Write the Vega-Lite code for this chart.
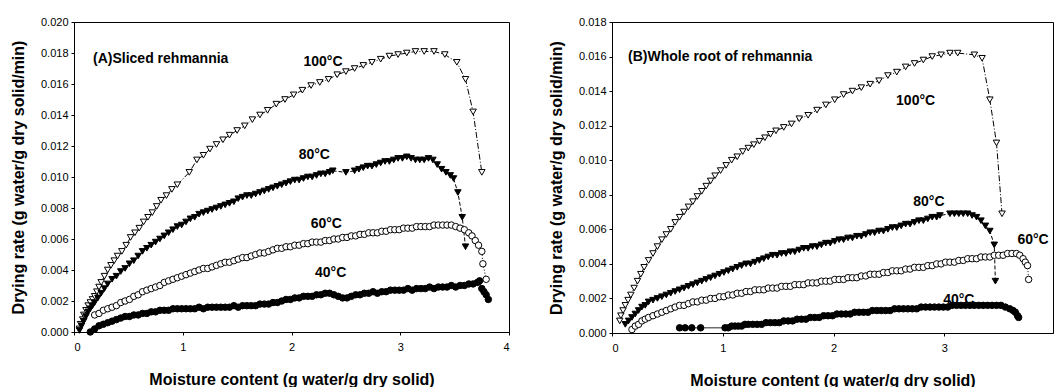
{
"$schema": "https://vega.github.io/schema/vega-lite/v6.json",
"padding": {"left": 9, "top": 15, "right": 0, "bottom": 0},
"spacing": 37,
"config": {
  "font": "Liberation Sans",
  "view": {"stroke": "black", "strokeWidth": 1},
  "axis": {"grid": false, "domainColor": "black", "tickColor": "black", "labelColor": "black", "titleColor": "black", "labelFont": "Liberation Sans", "labelFontSize": 11, "titleFont": "Liberation Sans", "titleFontSize": 16, "titleFontWeight": "bold", "tickSize": 3, "labelPadding": 3, "labelOverlap": false},
  "axisX": {"labelPadding": 6, "titlePadding": 19}
},
"resolve": {"scale": {"x": "independent", "y": "independent", "shape": "independent", "fill": "independent", "strokeDash": "independent"}},
"datasets": {
"A": [
{"t":100,"x":0.05,"y":0.0002},{"t":100,"x":0.06,"y":0.0005},{"t":100,"x":0.08,"y":0.0008},{"t":100,"x":0.09,"y":0.0011},{"t":100,"x":0.11,"y":0.0014},{"t":100,"x":0.13,"y":0.0017},{"t":100,"x":0.15,"y":0.0019},{"t":100,"x":0.17,"y":0.0021},{"t":100,"x":0.19,"y":0.0023},{"t":100,"x":0.21,"y":0.0026},{"t":100,"x":0.23,"y":0.0029},{"t":100,"x":0.25,"y":0.0032},{"t":100,"x":0.28,"y":0.0036},{"t":100,"x":0.31,"y":0.0040},{"t":100,"x":0.34,"y":0.0043},{"t":100,"x":0.37,"y":0.0046},{"t":100,"x":0.40,"y":0.0049},{"t":100,"x":0.44,"y":0.0052},{"t":100,"x":0.48,"y":0.0056},{"t":100,"x":0.52,"y":0.0061},{"t":100,"x":0.56,"y":0.0064},{"t":100,"x":0.60,"y":0.0067},{"t":100,"x":0.64,"y":0.0071},{"t":100,"x":0.68,"y":0.0074},{"t":100,"x":0.72,"y":0.0077},{"t":100,"x":0.76,"y":0.0081},{"t":100,"x":0.80,"y":0.0085},{"t":100,"x":0.85,"y":0.0088},{"t":100,"x":0.90,"y":0.0092},{"t":100,"x":0.95,"y":0.0095},{"t":100,"x":1.06,"y":0.0103},{"t":100,"x":1.13,"y":0.0111},{"t":100,"x":1.19,"y":0.0114},{"t":100,"x":1.25,"y":0.0118},{"t":100,"x":1.31,"y":0.0121},{"t":100,"x":1.37,"y":0.0124},{"t":100,"x":1.43,"y":0.0127},{"t":100,"x":1.50,"y":0.0130},{"t":100,"x":1.57,"y":0.0133},{"t":100,"x":1.64,"y":0.0137},{"t":100,"x":1.71,"y":0.0140},{"t":100,"x":1.78,"y":0.0143},{"t":100,"x":1.86,"y":0.0147},{"t":100,"x":1.94,"y":0.0150},{"t":100,"x":2.02,"y":0.0153},{"t":100,"x":2.10,"y":0.0156},{"t":100,"x":2.18,"y":0.0159},{"t":100,"x":2.26,"y":0.0161},{"t":100,"x":2.34,"y":0.0163},{"t":100,"x":2.42,"y":0.0166},{"t":100,"x":2.50,"y":0.0168},{"t":100,"x":2.58,"y":0.0170},{"t":100,"x":2.66,"y":0.0172},{"t":100,"x":2.74,"y":0.0174},{"t":100,"x":2.82,"y":0.0176},{"t":100,"x":2.90,"y":0.0178},{"t":100,"x":2.98,"y":0.0179},{"t":100,"x":3.06,"y":0.0180},{"t":100,"x":3.14,"y":0.0181},{"t":100,"x":3.22,"y":0.0181},{"t":100,"x":3.31,"y":0.0181},{"t":100,"x":3.41,"y":0.0179},{"t":100,"x":3.52,"y":0.0174},{"t":100,"x":3.60,"y":0.0163},{"t":100,"x":3.67,"y":0.0142},{"t":100,"x":3.75,"y":0.0103},
{"t":80,"x":0.05,"y":0.0001},{"t":80,"x":0.07,"y":0.0004},{"t":80,"x":0.09,"y":0.0007},{"t":80,"x":0.11,"y":0.0010},{"t":80,"x":0.13,"y":0.0013},{"t":80,"x":0.15,"y":0.0015},{"t":80,"x":0.17,"y":0.0017},{"t":80,"x":0.19,"y":0.0019},{"t":80,"x":0.22,"y":0.0022},{"t":80,"x":0.25,"y":0.0025},{"t":80,"x":0.28,"y":0.0028},{"t":80,"x":0.31,"y":0.0031},{"t":80,"x":0.35,"y":0.0034},{"t":80,"x":0.39,"y":0.0036},{"t":80,"x":0.43,"y":0.0039},{"t":80,"x":0.47,"y":0.0041},{"t":80,"x":0.51,"y":0.0044},{"t":80,"x":0.55,"y":0.0046},{"t":80,"x":0.59,"y":0.0049},{"t":80,"x":0.63,"y":0.0052},{"t":80,"x":0.67,"y":0.0054},{"t":80,"x":0.71,"y":0.0056},{"t":80,"x":0.75,"y":0.0058},{"t":80,"x":0.79,"y":0.0060},{"t":80,"x":0.83,"y":0.0062},{"t":80,"x":0.87,"y":0.0064},{"t":80,"x":0.91,"y":0.0066},{"t":80,"x":0.95,"y":0.0068},{"t":80,"x":0.99,"y":0.0069},{"t":80,"x":1.03,"y":0.0071},{"t":80,"x":1.07,"y":0.0073},{"t":80,"x":1.11,"y":0.0074},{"t":80,"x":1.15,"y":0.0076},{"t":80,"x":1.19,"y":0.0077},{"t":80,"x":1.23,"y":0.0078},{"t":80,"x":1.27,"y":0.0079},{"t":80,"x":1.31,"y":0.0080},{"t":80,"x":1.35,"y":0.0081},{"t":80,"x":1.39,"y":0.0082},{"t":80,"x":1.43,"y":0.0083},{"t":80,"x":1.47,"y":0.0084},{"t":80,"x":1.51,"y":0.0086},{"t":80,"x":1.55,"y":0.0087},{"t":80,"x":1.59,"y":0.0088},{"t":80,"x":1.63,"y":0.0088},{"t":80,"x":1.67,"y":0.0089},{"t":80,"x":1.71,"y":0.0090},{"t":80,"x":1.75,"y":0.0091},{"t":80,"x":1.79,"y":0.0092},{"t":80,"x":1.83,"y":0.0093},{"t":80,"x":1.87,"y":0.0094},{"t":80,"x":1.91,"y":0.0095},{"t":80,"x":1.95,"y":0.0096},{"t":80,"x":1.99,"y":0.0097},{"t":80,"x":2.03,"y":0.0098},{"t":80,"x":2.07,"y":0.0098},{"t":80,"x":2.11,"y":0.0099},{"t":80,"x":2.15,"y":0.0100},{"t":80,"x":2.19,"y":0.0100},{"t":80,"x":2.23,"y":0.0101},{"t":80,"x":2.27,"y":0.0102},{"t":80,"x":2.31,"y":0.0102},{"t":80,"x":2.35,"y":0.0103},{"t":80,"x":2.38,"y":0.0104},{"t":80,"x":2.50,"y":0.0103},{"t":80,"x":2.58,"y":0.0104},{"t":80,"x":2.62,"y":0.0105},{"t":80,"x":2.66,"y":0.0106},{"t":80,"x":2.70,"y":0.0107},{"t":80,"x":2.74,"y":0.0107},{"t":80,"x":2.78,"y":0.0108},{"t":80,"x":2.82,"y":0.0109},{"t":80,"x":2.86,"y":0.0110},{"t":80,"x":2.90,"y":0.0110},{"t":80,"x":2.94,"y":0.0111},{"t":80,"x":2.98,"y":0.0112},{"t":80,"x":3.02,"y":0.0112},{"t":80,"x":3.06,"y":0.0113},{"t":80,"x":3.10,"y":0.0112},{"t":80,"x":3.14,"y":0.0111},{"t":80,"x":3.18,"y":0.0111},{"t":80,"x":3.22,"y":0.0111},{"t":80,"x":3.26,"y":0.0112},{"t":80,"x":3.30,"y":0.0111},{"t":80,"x":3.34,"y":0.0108},{"t":80,"x":3.38,"y":0.0105},{"t":80,"x":3.42,"y":0.0103},{"t":80,"x":3.46,"y":0.0101},{"t":80,"x":3.49,"y":0.0099},{"t":80,"x":3.53,"y":0.0090},{"t":80,"x":3.57,"y":0.0074},{"t":80,"x":3.60,"y":0.0055},
{"t":60,"x":0.19,"y":0.0011},{"t":60,"x":0.23,"y":0.0012},{"t":60,"x":0.27,"y":0.0014},{"t":60,"x":0.31,"y":0.0015},{"t":60,"x":0.35,"y":0.0016},{"t":60,"x":0.39,"y":0.0017},{"t":60,"x":0.43,"y":0.0019},{"t":60,"x":0.47,"y":0.0020},{"t":60,"x":0.51,"y":0.0021},{"t":60,"x":0.55,"y":0.0023},{"t":60,"x":0.59,"y":0.0024},{"t":60,"x":0.63,"y":0.0026},{"t":60,"x":0.67,"y":0.0027},{"t":60,"x":0.71,"y":0.0028},{"t":60,"x":0.75,"y":0.0029},{"t":60,"x":0.79,"y":0.0030},{"t":60,"x":0.83,"y":0.0032},{"t":60,"x":0.87,"y":0.0033},{"t":60,"x":0.91,"y":0.0034},{"t":60,"x":0.95,"y":0.0035},{"t":60,"x":0.99,"y":0.0036},{"t":60,"x":1.03,"y":0.0037},{"t":60,"x":1.07,"y":0.0038},{"t":60,"x":1.11,"y":0.0039},{"t":60,"x":1.15,"y":0.0040},{"t":60,"x":1.19,"y":0.0041},{"t":60,"x":1.23,"y":0.0041},{"t":60,"x":1.27,"y":0.0042},{"t":60,"x":1.31,"y":0.0043},{"t":60,"x":1.35,"y":0.0044},{"t":60,"x":1.39,"y":0.0045},{"t":60,"x":1.43,"y":0.0045},{"t":60,"x":1.47,"y":0.0046},{"t":60,"x":1.51,"y":0.0047},{"t":60,"x":1.55,"y":0.0048},{"t":60,"x":1.59,"y":0.0048},{"t":60,"x":1.63,"y":0.0049},{"t":60,"x":1.67,"y":0.0050},{"t":60,"x":1.71,"y":0.0051},{"t":60,"x":1.75,"y":0.0051},{"t":60,"x":1.79,"y":0.0052},{"t":60,"x":1.83,"y":0.0053},{"t":60,"x":1.87,"y":0.0054},{"t":60,"x":1.91,"y":0.0054},{"t":60,"x":1.95,"y":0.0055},{"t":60,"x":1.99,"y":0.0055},{"t":60,"x":2.03,"y":0.0056},{"t":60,"x":2.07,"y":0.0056},{"t":60,"x":2.11,"y":0.0057},{"t":60,"x":2.15,"y":0.0057},{"t":60,"x":2.19,"y":0.0058},{"t":60,"x":2.23,"y":0.0058},{"t":60,"x":2.27,"y":0.0058},{"t":60,"x":2.31,"y":0.0059},{"t":60,"x":2.35,"y":0.0059},{"t":60,"x":2.39,"y":0.0060},{"t":60,"x":2.43,"y":0.0060},{"t":60,"x":2.47,"y":0.0061},{"t":60,"x":2.51,"y":0.0061},{"t":60,"x":2.55,"y":0.0062},{"t":60,"x":2.59,"y":0.0062},{"t":60,"x":2.63,"y":0.0063},{"t":60,"x":2.67,"y":0.0063},{"t":60,"x":2.71,"y":0.0064},{"t":60,"x":2.75,"y":0.0064},{"t":60,"x":2.79,"y":0.0064},{"t":60,"x":2.83,"y":0.0065},{"t":60,"x":2.87,"y":0.0065},{"t":60,"x":2.91,"y":0.0066},{"t":60,"x":2.95,"y":0.0066},{"t":60,"x":2.99,"y":0.0066},{"t":60,"x":3.03,"y":0.0067},{"t":60,"x":3.07,"y":0.0067},{"t":60,"x":3.11,"y":0.0067},{"t":60,"x":3.15,"y":0.0068},{"t":60,"x":3.19,"y":0.0068},{"t":60,"x":3.23,"y":0.0068},{"t":60,"x":3.27,"y":0.0068},{"t":60,"x":3.31,"y":0.0069},{"t":60,"x":3.35,"y":0.0069},{"t":60,"x":3.39,"y":0.0069},{"t":60,"x":3.43,"y":0.0069},{"t":60,"x":3.47,"y":0.0069},{"t":60,"x":3.51,"y":0.0068},{"t":60,"x":3.55,"y":0.0067},{"t":60,"x":3.59,"y":0.0066},{"t":60,"x":3.63,"y":0.0064},{"t":60,"x":3.66,"y":0.0062},{"t":60,"x":3.69,"y":0.0059},{"t":60,"x":3.72,"y":0.0056},{"t":60,"x":3.75,"y":0.0052},{"t":60,"x":3.76,"y":0.0044},{"t":60,"x":3.79,"y":0.0034},
{"t":40,"x":0.15,"y":0.0000},{"t":40,"x":0.19,"y":0.0002},{"t":40,"x":0.23,"y":0.0004},{"t":40,"x":0.27,"y":0.0005},{"t":40,"x":0.31,"y":0.0006},{"t":40,"x":0.35,"y":0.0007},{"t":40,"x":0.39,"y":0.0008},{"t":40,"x":0.43,"y":0.0009},{"t":40,"x":0.47,"y":0.0010},{"t":40,"x":0.51,"y":0.0010},{"t":40,"x":0.55,"y":0.0011},{"t":40,"x":0.59,"y":0.0011},{"t":40,"x":0.63,"y":0.0012},{"t":40,"x":0.67,"y":0.0012},{"t":40,"x":0.71,"y":0.0013},{"t":40,"x":0.75,"y":0.0013},{"t":40,"x":0.79,"y":0.0014},{"t":40,"x":0.83,"y":0.0014},{"t":40,"x":0.87,"y":0.0014},{"t":40,"x":0.91,"y":0.0015},{"t":40,"x":0.95,"y":0.0015},{"t":40,"x":0.99,"y":0.0015},{"t":40,"x":1.03,"y":0.0015},{"t":40,"x":1.07,"y":0.0015},{"t":40,"x":1.11,"y":0.0015},{"t":40,"x":1.15,"y":0.0016},{"t":40,"x":1.19,"y":0.0015},{"t":40,"x":1.23,"y":0.0016},{"t":40,"x":1.27,"y":0.0016},{"t":40,"x":1.31,"y":0.0016},{"t":40,"x":1.35,"y":0.0016},{"t":40,"x":1.39,"y":0.0016},{"t":40,"x":1.43,"y":0.0016},{"t":40,"x":1.47,"y":0.0017},{"t":40,"x":1.51,"y":0.0016},{"t":40,"x":1.55,"y":0.0017},{"t":40,"x":1.59,"y":0.0017},{"t":40,"x":1.63,"y":0.0017},{"t":40,"x":1.67,"y":0.0017},{"t":40,"x":1.71,"y":0.0018},{"t":40,"x":1.75,"y":0.0018},{"t":40,"x":1.79,"y":0.0018},{"t":40,"x":1.83,"y":0.0019},{"t":40,"x":1.87,"y":0.0019},{"t":40,"x":1.91,"y":0.0020},{"t":40,"x":1.95,"y":0.0021},{"t":40,"x":1.99,"y":0.0021},{"t":40,"x":2.03,"y":0.0022},{"t":40,"x":2.07,"y":0.0022},{"t":40,"x":2.11,"y":0.0023},{"t":40,"x":2.15,"y":0.0023},{"t":40,"x":2.19,"y":0.0023},{"t":40,"x":2.23,"y":0.0024},{"t":40,"x":2.27,"y":0.0024},{"t":40,"x":2.31,"y":0.0025},{"t":40,"x":2.35,"y":0.0025},{"t":40,"x":2.39,"y":0.0024},{"t":40,"x":2.43,"y":0.0023},{"t":40,"x":2.47,"y":0.0022},{"t":40,"x":2.51,"y":0.0022},{"t":40,"x":2.55,"y":0.0023},{"t":40,"x":2.59,"y":0.0024},{"t":40,"x":2.63,"y":0.0024},{"t":40,"x":2.67,"y":0.0025},{"t":40,"x":2.71,"y":0.0025},{"t":40,"x":2.75,"y":0.0026},{"t":40,"x":2.79,"y":0.0025},{"t":40,"x":2.83,"y":0.0026},{"t":40,"x":2.87,"y":0.0026},{"t":40,"x":2.91,"y":0.0027},{"t":40,"x":2.95,"y":0.0027},{"t":40,"x":2.99,"y":0.0027},{"t":40,"x":3.03,"y":0.0027},{"t":40,"x":3.07,"y":0.0028},{"t":40,"x":3.11,"y":0.0027},{"t":40,"x":3.15,"y":0.0028},{"t":40,"x":3.19,"y":0.0028},{"t":40,"x":3.23,"y":0.0028},{"t":40,"x":3.27,"y":0.0029},{"t":40,"x":3.31,"y":0.0028},{"t":40,"x":3.35,"y":0.0029},{"t":40,"x":3.39,"y":0.0029},{"t":40,"x":3.43,"y":0.0029},{"t":40,"x":3.47,"y":0.0030},{"t":40,"x":3.51,"y":0.0029},{"t":40,"x":3.55,"y":0.0030},{"t":40,"x":3.59,"y":0.0030},{"t":40,"x":3.63,"y":0.0031},{"t":40,"x":3.67,"y":0.0031},{"t":40,"x":3.71,"y":0.0032},{"t":40,"x":3.73,"y":0.0033},{"t":40,"x":3.75,"y":0.0028},{"t":40,"x":3.77,"y":0.0026},{"t":40,"x":3.79,"y":0.0024},{"t":40,"x":3.81,"y":0.0021}
],
"B": [
{"t":100,"x":0.07,"y":0.0007},{"t":100,"x":0.08,"y":0.0010},{"t":100,"x":0.10,"y":0.0013},{"t":100,"x":0.12,"y":0.0016},{"t":100,"x":0.145,"y":0.0019},{"t":100,"x":0.17,"y":0.0022},{"t":100,"x":0.20,"y":0.0026},{"t":100,"x":0.23,"y":0.0030},{"t":100,"x":0.26,"y":0.0034},{"t":100,"x":0.29,"y":0.0038},{"t":100,"x":0.33,"y":0.0042},{"t":100,"x":0.37,"y":0.0046},{"t":100,"x":0.41,"y":0.0050},{"t":100,"x":0.45,"y":0.0054},{"t":100,"x":0.49,"y":0.0057},{"t":100,"x":0.53,"y":0.0060},{"t":100,"x":0.57,"y":0.0064},{"t":100,"x":0.61,"y":0.0067},{"t":100,"x":0.65,"y":0.0070},{"t":100,"x":0.69,"y":0.0073},{"t":100,"x":0.73,"y":0.0076},{"t":100,"x":0.77,"y":0.0079},{"t":100,"x":0.81,"y":0.0082},{"t":100,"x":0.85,"y":0.0085},{"t":100,"x":0.89,"y":0.0088},{"t":100,"x":0.93,"y":0.0091},{"t":100,"x":0.98,"y":0.0094},{"t":100,"x":1.03,"y":0.0097},{"t":100,"x":1.08,"y":0.0100},{"t":100,"x":1.13,"y":0.0102},{"t":100,"x":1.18,"y":0.0105},{"t":100,"x":1.23,"y":0.0107},{"t":100,"x":1.28,"y":0.0109},{"t":100,"x":1.33,"y":0.0111},{"t":100,"x":1.38,"y":0.0113},{"t":100,"x":1.43,"y":0.0115},{"t":100,"x":1.48,"y":0.0117},{"t":100,"x":1.55,"y":0.0119},{"t":100,"x":1.62,"y":0.0121},{"t":100,"x":1.69,"y":0.0124},{"t":100,"x":1.77,"y":0.0126},{"t":100,"x":1.85,"y":0.0129},{"t":100,"x":1.93,"y":0.0132},{"t":100,"x":2.01,"y":0.0135},{"t":100,"x":2.09,"y":0.0138},{"t":100,"x":2.17,"y":0.0140},{"t":100,"x":2.25,"y":0.0142},{"t":100,"x":2.33,"y":0.0144},{"t":100,"x":2.41,"y":0.0146},{"t":100,"x":2.49,"y":0.0149},{"t":100,"x":2.57,"y":0.0151},{"t":100,"x":2.65,"y":0.0154},{"t":100,"x":2.73,"y":0.0156},{"t":100,"x":2.81,"y":0.0158},{"t":100,"x":2.89,"y":0.0160},{"t":100,"x":2.97,"y":0.0161},{"t":100,"x":3.05,"y":0.0162},{"t":100,"x":3.12,"y":0.0162},{"t":100,"x":3.27,"y":0.0161},{"t":100,"x":3.34,"y":0.0159},{"t":100,"x":3.41,"y":0.0135},{"t":100,"x":3.47,"y":0.0110},{"t":100,"x":3.52,"y":0.0069},
{"t":80,"x":0.12,"y":0.0005},{"t":80,"x":0.15,"y":0.0007},{"t":80,"x":0.18,"y":0.0009},{"t":80,"x":0.21,"y":0.0011},{"t":80,"x":0.24,"y":0.0013},{"t":80,"x":0.27,"y":0.0015},{"t":80,"x":0.30,"y":0.0016},{"t":80,"x":0.33,"y":0.0018},{"t":80,"x":0.37,"y":0.0019},{"t":80,"x":0.41,"y":0.0020},{"t":80,"x":0.45,"y":0.0021},{"t":80,"x":0.49,"y":0.0022},{"t":80,"x":0.53,"y":0.0023},{"t":80,"x":0.57,"y":0.0024},{"t":80,"x":0.61,"y":0.0025},{"t":80,"x":0.65,"y":0.0026},{"t":80,"x":0.69,"y":0.0027},{"t":80,"x":0.73,"y":0.0028},{"t":80,"x":0.77,"y":0.0029},{"t":80,"x":0.81,"y":0.0030},{"t":80,"x":0.85,"y":0.0031},{"t":80,"x":0.89,"y":0.0032},{"t":80,"x":0.93,"y":0.0033},{"t":80,"x":0.97,"y":0.0034},{"t":80,"x":1.01,"y":0.0035},{"t":80,"x":1.05,"y":0.0036},{"t":80,"x":1.09,"y":0.0037},{"t":80,"x":1.13,"y":0.0038},{"t":80,"x":1.17,"y":0.0039},{"t":80,"x":1.21,"y":0.0040},{"t":80,"x":1.25,"y":0.0040},{"t":80,"x":1.29,"y":0.0041},{"t":80,"x":1.33,"y":0.0042},{"t":80,"x":1.37,"y":0.0043},{"t":80,"x":1.41,"y":0.0044},{"t":80,"x":1.45,"y":0.0045},{"t":80,"x":1.49,"y":0.0045},{"t":80,"x":1.53,"y":0.0046},{"t":80,"x":1.57,"y":0.0046},{"t":80,"x":1.61,"y":0.0047},{"t":80,"x":1.65,"y":0.0047},{"t":80,"x":1.69,"y":0.0048},{"t":80,"x":1.73,"y":0.0049},{"t":80,"x":1.77,"y":0.0049},{"t":80,"x":1.81,"y":0.0050},{"t":80,"x":1.85,"y":0.0050},{"t":80,"x":1.89,"y":0.0051},{"t":80,"x":1.93,"y":0.0052},{"t":80,"x":1.97,"y":0.0052},{"t":80,"x":2.01,"y":0.0053},{"t":80,"x":2.05,"y":0.0054},{"t":80,"x":2.09,"y":0.0054},{"t":80,"x":2.13,"y":0.0055},{"t":80,"x":2.17,"y":0.0055},{"t":80,"x":2.21,"y":0.0056},{"t":80,"x":2.25,"y":0.0056},{"t":80,"x":2.29,"y":0.0057},{"t":80,"x":2.33,"y":0.0058},{"t":80,"x":2.37,"y":0.0058},{"t":80,"x":2.41,"y":0.0059},{"t":80,"x":2.45,"y":0.0059},{"t":80,"x":2.49,"y":0.0060},{"t":80,"x":2.53,"y":0.0061},{"t":80,"x":2.57,"y":0.0061},{"t":80,"x":2.61,"y":0.0062},{"t":80,"x":2.65,"y":0.0063},{"t":80,"x":2.69,"y":0.0063},{"t":80,"x":2.73,"y":0.0064},{"t":80,"x":2.77,"y":0.0065},{"t":80,"x":2.81,"y":0.0065},{"t":80,"x":2.85,"y":0.0066},{"t":80,"x":2.89,"y":0.0067},{"t":80,"x":2.93,"y":0.0067},{"t":80,"x":2.96,"y":0.0068},{"t":80,"x":3.05,"y":0.0069},{"t":80,"x":3.09,"y":0.0069},{"t":80,"x":3.13,"y":0.0069},{"t":80,"x":3.17,"y":0.0069},{"t":80,"x":3.21,"y":0.0069},{"t":80,"x":3.25,"y":0.0068},{"t":80,"x":3.29,"y":0.0067},{"t":80,"x":3.33,"y":0.0065},{"t":80,"x":3.37,"y":0.0062},{"t":80,"x":3.41,"y":0.0059},{"t":80,"x":3.45,"y":0.0051},{"t":80,"x":3.46,"y":0.0030},
{"t":60,"x":0.18,"y":0.0002},{"t":60,"x":0.21,"y":0.0004},{"t":60,"x":0.24,"y":0.0005},{"t":60,"x":0.27,"y":0.0007},{"t":60,"x":0.30,"y":0.0008},{"t":60,"x":0.33,"y":0.0009},{"t":60,"x":0.37,"y":0.0010},{"t":60,"x":0.41,"y":0.0011},{"t":60,"x":0.45,"y":0.0012},{"t":60,"x":0.49,"y":0.0013},{"t":60,"x":0.53,"y":0.0014},{"t":60,"x":0.57,"y":0.0015},{"t":60,"x":0.61,"y":0.0016},{"t":60,"x":0.65,"y":0.0016},{"t":60,"x":0.69,"y":0.0017},{"t":60,"x":0.73,"y":0.0018},{"t":60,"x":0.77,"y":0.0018},{"t":60,"x":0.81,"y":0.0019},{"t":60,"x":0.85,"y":0.0019},{"t":60,"x":0.89,"y":0.0020},{"t":60,"x":0.93,"y":0.0020},{"t":60,"x":0.97,"y":0.0021},{"t":60,"x":1.01,"y":0.0021},{"t":60,"x":1.05,"y":0.0022},{"t":60,"x":1.09,"y":0.0022},{"t":60,"x":1.13,"y":0.0023},{"t":60,"x":1.17,"y":0.0023},{"t":60,"x":1.21,"y":0.0024},{"t":60,"x":1.25,"y":0.0024},{"t":60,"x":1.29,"y":0.0025},{"t":60,"x":1.33,"y":0.0025},{"t":60,"x":1.37,"y":0.0025},{"t":60,"x":1.41,"y":0.0026},{"t":60,"x":1.45,"y":0.0026},{"t":60,"x":1.49,"y":0.0026},{"t":60,"x":1.53,"y":0.0027},{"t":60,"x":1.57,"y":0.0027},{"t":60,"x":1.61,"y":0.0027},{"t":60,"x":1.65,"y":0.0028},{"t":60,"x":1.69,"y":0.0028},{"t":60,"x":1.73,"y":0.0028},{"t":60,"x":1.77,"y":0.0029},{"t":60,"x":1.81,"y":0.0029},{"t":60,"x":1.85,"y":0.0029},{"t":60,"x":1.89,"y":0.0030},{"t":60,"x":1.93,"y":0.0030},{"t":60,"x":1.97,"y":0.0030},{"t":60,"x":2.01,"y":0.0031},{"t":60,"x":2.05,"y":0.0031},{"t":60,"x":2.09,"y":0.0031},{"t":60,"x":2.13,"y":0.0032},{"t":60,"x":2.17,"y":0.0032},{"t":60,"x":2.21,"y":0.0032},{"t":60,"x":2.25,"y":0.0033},{"t":60,"x":2.29,"y":0.0033},{"t":60,"x":2.33,"y":0.0034},{"t":60,"x":2.37,"y":0.0034},{"t":60,"x":2.41,"y":0.0034},{"t":60,"x":2.45,"y":0.0035},{"t":60,"x":2.49,"y":0.0035},{"t":60,"x":2.53,"y":0.0036},{"t":60,"x":2.57,"y":0.0036},{"t":60,"x":2.61,"y":0.0036},{"t":60,"x":2.65,"y":0.0037},{"t":60,"x":2.69,"y":0.0037},{"t":60,"x":2.73,"y":0.0038},{"t":60,"x":2.77,"y":0.0038},{"t":60,"x":2.81,"y":0.0038},{"t":60,"x":2.85,"y":0.0039},{"t":60,"x":2.89,"y":0.0039},{"t":60,"x":2.93,"y":0.0040},{"t":60,"x":2.97,"y":0.0040},{"t":60,"x":3.01,"y":0.0041},{"t":60,"x":3.05,"y":0.0041},{"t":60,"x":3.09,"y":0.0041},{"t":60,"x":3.13,"y":0.0042},{"t":60,"x":3.17,"y":0.0042},{"t":60,"x":3.21,"y":0.0043},{"t":60,"x":3.25,"y":0.0043},{"t":60,"x":3.29,"y":0.0043},{"t":60,"x":3.33,"y":0.0044},{"t":60,"x":3.37,"y":0.0044},{"t":60,"x":3.41,"y":0.0044},{"t":60,"x":3.45,"y":0.0045},{"t":60,"x":3.49,"y":0.0045},{"t":60,"x":3.53,"y":0.0045},{"t":60,"x":3.57,"y":0.0046},{"t":60,"x":3.61,"y":0.0046},{"t":60,"x":3.65,"y":0.0046},{"t":60,"x":3.68,"y":0.0045},{"t":60,"x":3.71,"y":0.0043},{"t":60,"x":3.73,"y":0.0041},{"t":60,"x":3.75,"y":0.0039},{"t":60,"x":3.76,"y":0.0031},
{"t":40,"x":0.61,"y":0.0003},{"t":40,"x":0.66,"y":0.0003},{"t":40,"x":0.72,"y":0.0003},{"t":40,"x":0.80,"y":0.0003},{"t":40,"x":1.02,"y":0.0003},{"t":40,"x":1.05,"y":0.0003},{"t":40,"x":1.08,"y":0.0004},{"t":40,"x":1.11,"y":0.0004},{"t":40,"x":1.14,"y":0.0004},{"t":40,"x":1.17,"y":0.0004},{"t":40,"x":1.20,"y":0.0005},{"t":40,"x":1.23,"y":0.0005},{"t":40,"x":1.27,"y":0.0005},{"t":40,"x":1.31,"y":0.0005},{"t":40,"x":1.35,"y":0.0005},{"t":40,"x":1.39,"y":0.0006},{"t":40,"x":1.43,"y":0.0006},{"t":40,"x":1.47,"y":0.0006},{"t":40,"x":1.51,"y":0.0006},{"t":40,"x":1.55,"y":0.0007},{"t":40,"x":1.59,"y":0.0007},{"t":40,"x":1.63,"y":0.0007},{"t":40,"x":1.67,"y":0.0008},{"t":40,"x":1.71,"y":0.0008},{"t":40,"x":1.75,"y":0.0008},{"t":40,"x":1.79,"y":0.0009},{"t":40,"x":1.83,"y":0.0009},{"t":40,"x":1.87,"y":0.0009},{"t":40,"x":1.91,"y":0.0010},{"t":40,"x":1.95,"y":0.0010},{"t":40,"x":1.99,"y":0.0010},{"t":40,"x":2.03,"y":0.0011},{"t":40,"x":2.07,"y":0.0011},{"t":40,"x":2.11,"y":0.0011},{"t":40,"x":2.15,"y":0.0011},{"t":40,"x":2.19,"y":0.0012},{"t":40,"x":2.23,"y":0.0012},{"t":40,"x":2.27,"y":0.0012},{"t":40,"x":2.31,"y":0.0012},{"t":40,"x":2.35,"y":0.0013},{"t":40,"x":2.39,"y":0.0013},{"t":40,"x":2.43,"y":0.0013},{"t":40,"x":2.47,"y":0.0013},{"t":40,"x":2.51,"y":0.0013},{"t":40,"x":2.55,"y":0.0014},{"t":40,"x":2.59,"y":0.0014},{"t":40,"x":2.63,"y":0.0014},{"t":40,"x":2.67,"y":0.0014},{"t":40,"x":2.71,"y":0.0014},{"t":40,"x":2.75,"y":0.0014},{"t":40,"x":2.79,"y":0.0015},{"t":40,"x":2.83,"y":0.0015},{"t":40,"x":2.87,"y":0.0015},{"t":40,"x":2.91,"y":0.0015},{"t":40,"x":2.95,"y":0.0015},{"t":40,"x":2.99,"y":0.0015},{"t":40,"x":3.03,"y":0.0015},{"t":40,"x":3.07,"y":0.0016},{"t":40,"x":3.11,"y":0.0016},{"t":40,"x":3.15,"y":0.0016},{"t":40,"x":3.19,"y":0.0016},{"t":40,"x":3.23,"y":0.0016},{"t":40,"x":3.27,"y":0.0016},{"t":40,"x":3.31,"y":0.0016},{"t":40,"x":3.35,"y":0.0016},{"t":40,"x":3.39,"y":0.0016},{"t":40,"x":3.43,"y":0.0016},{"t":40,"x":3.47,"y":0.0016},{"t":40,"x":3.51,"y":0.0016},{"t":40,"x":3.55,"y":0.0015},{"t":40,"x":3.59,"y":0.0014},{"t":40,"x":3.62,"y":0.0013},{"t":40,"x":3.64,"y":0.0012},{"t":40,"x":3.66,"y":0.0010},{"t":40,"x":3.67,"y":0.0009}
],
"LA": [
{"label":"(A)Sliced rehmannia","x":0.175,"y":0.0176,"a":"left"},
{"label":"100°C","x":2.29,"y":0.0174,"a":"center"},
{"label":"80°C","x":2.21,"y":0.0114,"a":"center"},
{"label":"60°C","x":2.32,"y":0.0070,"a":"center"},
{"label":"40°C","x":2.36,"y":0.0038,"a":"center"}
],
"LB": [
{"label":"(B)Whole root of rehmannia","x":0.145,"y":0.0160,"a":"left"},
{"label":"100°C","x":2.74,"y":0.0134,"a":"center"},
{"label":"80°C","x":2.86,"y":0.0076,"a":"center"},
{"label":"60°C","x":3.80,"y":0.0054,"a":"center"},
{"label":"40°C","x":3.13,"y":0.0019,"a":"center"}
]
},
"hconcat": [
{
 "width": 435, "height": 310,
 "encoding": {
  "x": {"field": "x", "type": "quantitative", "scale": {"domain": [0, 4], "nice": false}, "axis": {"values": [0,1,2,3,4], "format": "d", "labelOverlap": false, "title": "Moisture content (g water/g dry solid)"}},
  "y": {"field": "y", "type": "quantitative", "scale": {"domain": [0, 0.02], "nice": false}, "axis": {"values": [0,0.002,0.004,0.006,0.008,0.01,0.012,0.014,0.016,0.018,0.02], "tickCount": 11, "format": ".3f", "labelOverlap": false, "title": "Drying rate (g water/g dry solid/min)", "titlePadding": 14}}
 },
 "layer": [
  {"data": {"name": "A"},
   "mark": {"type": "line", "color": "black", "strokeWidth": 1},
   "encoding": {
    "detail": {"field": "t", "type": "nominal"},
    "strokeDash": {"field": "t", "type": "nominal", "scale": {"domain": [100,80,60,40], "range": [[6,2,1,2],[4,2],[1,2],[1,0]]}, "legend": null}
   }},
  {"data": {"name": "A"},
   "mark": {"type": "point", "filled": true, "stroke": "black", "strokeWidth": 1, "opacity": 1, "size": 42},
   "encoding": {
    "shape": {"field": "t", "type": "nominal", "scale": {"domain": [100,80,60,40], "range": ["triangle-down","triangle-down","circle","circle"]}, "legend": null},
    "fill": {"field": "t", "type": "nominal", "scale": {"domain": [100,80,60,40], "range": ["white","black","white","black"]}, "legend": null}
   }},
  {"data": {"name": "LA"},
   "transform": [{"filter": "datum.a == 'left'"}],
   "mark": {"type": "text", "fontWeight": "bold", "fontSize": 14, "font": "Liberation Sans", "color": "black", "align": "left"},
   "encoding": {"text": {"field": "label"}}},
  {"data": {"name": "LA"},
   "transform": [{"filter": "datum.a == 'center'"}],
   "mark": {"type": "text", "fontWeight": "bold", "fontSize": 14, "font": "Liberation Sans", "color": "black", "align": "center"},
   "encoding": {"text": {"field": "label"}}}
 ]
},
{
 "width": 441, "height": 311,
 "encoding": {
  "x": {"field": "x", "type": "quantitative", "scale": {"domain": [0, 3.98], "nice": false}, "axis": {"values": [0,1,2,3], "format": "d", "labelOverlap": false, "title": "Moisture content (g water/g dry solid)"}},
  "y": {"field": "y", "type": "quantitative", "scale": {"domain": [0, 0.018], "nice": false}, "axis": {"values": [0,0.002,0.004,0.006,0.008,0.01,0.012,0.014,0.016,0.018], "tickCount": 10, "format": ".3f", "labelOverlap": false, "title": "Drying rate (g water/g dry solid/min)", "titlePadding": 14}}
 },
 "layer": [
  {"data": {"name": "B"},
   "mark": {"type": "line", "color": "black", "strokeWidth": 1},
   "encoding": {
    "detail": {"field": "t", "type": "nominal"},
    "strokeDash": {"field": "t", "type": "nominal", "scale": {"domain": [100,80,60,40], "range": [[6,2,1,2],[4,2],[1,2],[1,0]]}, "legend": null}
   }},
  {"data": {"name": "B"},
   "mark": {"type": "point", "filled": true, "stroke": "black", "strokeWidth": 1, "opacity": 1, "size": 42},
   "encoding": {
    "shape": {"field": "t", "type": "nominal", "scale": {"domain": [100,80,60,40], "range": ["triangle-down","triangle-down","circle","circle"]}, "legend": null},
    "fill": {"field": "t", "type": "nominal", "scale": {"domain": [100,80,60,40], "range": ["white","black","white","black"]}, "legend": null}
   }},
  {"data": {"name": "LB"},
   "transform": [{"filter": "datum.a == 'left'"}],
   "mark": {"type": "text", "fontWeight": "bold", "fontSize": 14, "font": "Liberation Sans", "color": "black", "align": "left"},
   "encoding": {"text": {"field": "label"}}},
  {"data": {"name": "LB"},
   "transform": [{"filter": "datum.a == 'center'"}],
   "mark": {"type": "text", "fontWeight": "bold", "fontSize": 14, "font": "Liberation Sans", "color": "black", "align": "center"},
   "encoding": {"text": {"field": "label"}}}
 ]
}
]
}
